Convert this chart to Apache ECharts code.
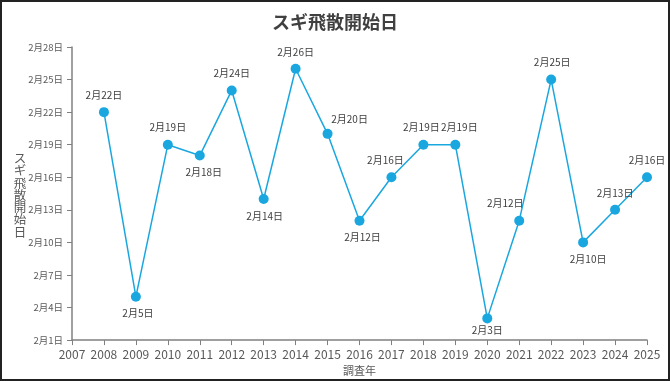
<!DOCTYPE html>
<html><head><meta charset="utf-8">
<script src="https://cdn.jsdelivr.net/npm/echarts@6/dist/echarts.min.js"></script>
<style>html,body{margin:0;padding:0;background:#fff}#c{width:670px;height:381px}</style>
</head><body><div id="c"></div>
<script>
const years = [2008,2009,2010,2011,2012,2013,2014,2015,2016,2017,2018,2019,2020,2021,2022,2023,2024,2025];
const febDays = [22,5,19,18,24,14,26,20,12,16,19,19,3,12,25,10,13,16];
const labelPos = ['top','bottom','top','bottom','top','bottom','top','top','bottom','top','top','top','bottom','top','top','bottom','top','top'];
const labelOffsets = [[0,0],[2,0],[0,0],[4,0],[0,0],[1,0],[0,0],[22,2],[3,0],[-6,0],[-2,0],[4,0],[0,-5],[-14,0],[1,0],[5,0],[0,0],[0,0]];
const yTickDays = [1,4,7,10,13,16,19,22,25,28];
const xTicks = [2007,2025];
const yName = 'スギ飛散開始日';

const font = '"Noto Sans CJK JP","Noto Sans",sans-serif';
const data = years.map((y,i)=>({
  value:[y, febDays[i]-1],
  label:{position:labelPos[i], offset:labelOffsets[i]}
}));
const chart = echarts.init(document.getElementById('c'));
chart.setOption({
  animation:false,
  title:{text:'スギ飛散開始日', left:'center', top:8,
    textStyle:{fontFamily:font, fontSize:18, fontWeight:'bold', color:'#404040'}},
  graphic:[
    {type:'rect', shape:{x:1,y:1,width:668,height:379}, style:{fill:'none', stroke:'#222', lineWidth:2}},
    {type:'text', x:20, y:152, style:{text:yName.split('').join('\n'), font:'12.5px '+font, lineHeight:12.3, fill:'#595959', textAlign:'center', textVerticalAlign:'top'}}
  ],
  grid:{left:72, right:23, top:47, bottom:40},
  xAxis:{type:'value', min:xTicks[0], max:xTicks[1], interval:1,
    name:'調査年', nameLocation:'middle', nameGap:22,
    nameTextStyle:{fontFamily:font, fontSize:11, color:'#595959'},
    axisLine:{lineStyle:{color:'#808080', width:1.5}},
    axisTick:{show:true, length:5, lineStyle:{color:'#808080'}},
    splitLine:{show:false},
    axisLabel:{fontFamily:font, fontSize:12, color:'#595959', margin:8, formatter:v=>String(v)}},
  yAxis:{type:'value', min:yTickDays[0]-1, max:yTickDays[yTickDays.length-1]-1, interval:yTickDays[1]-yTickDays[0],
    axisLine:{show:true, lineStyle:{color:'#808080', width:1.5}},
    axisTick:{show:true, length:5, lineStyle:{color:'#808080'}},
    splitLine:{show:false},
    axisLabel:{fontFamily:font, fontSize:9.5, color:'#595959', margin:9, formatter:v=>'2月'+(v+1)+'日'}},
  series:[{type:'line', data:data, symbol:'circle', symbolSize:10,
    itemStyle:{color:'#1AA7E0'}, lineStyle:{color:'#1AA7E0', width:1.5},
    label:{show:true, fontFamily:font, fontSize:10, color:'#404040', distance:7,
      formatter:p=>'2月'+(p.value[1]+1)+'日'}}]
});
</script></body></html>
